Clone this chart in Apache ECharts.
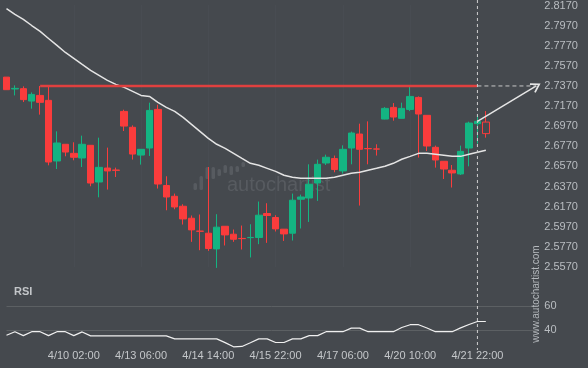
<!DOCTYPE html>
<html><head><meta charset="utf-8">
<script src="https://cdn.jsdelivr.net/npm/echarts@6/dist/echarts.min.js"></script>
<style>html,body{margin:0;padding:0;background:#45494e}#c{width:588px;height:368px}</style>
</head><body><div id="c"></div>
<script>
// [open, close, low, high]
const candles = [
[2.7458,2.7333,2.7333,2.7458],[2.7340,2.7346,2.7276,2.7376],[2.7343,2.7234,2.7210,2.7366],
[2.7220,2.7286,2.7144,2.7306],[2.7276,2.7207,2.7085,2.7370],[2.7227,2.6614,2.6581,2.7366],
[2.6624,2.6803,2.6544,2.6919],[2.6790,2.6713,2.6671,2.6790],[2.6700,2.6661,2.6631,2.6810],
[2.6654,2.6790,2.6564,2.6876],[2.6780,2.6405,2.6373,2.6780],[2.6415,2.6561,2.6263,2.6856],
[2.6554,2.6525,2.6340,2.6757],[2.6534,2.6531,2.6465,2.6558],[2.7117,2.6971,2.6922,2.7134],
[2.6959,2.6693,2.6638,2.6978],[2.6683,2.6740,2.6588,2.6740],[2.6753,2.7127,2.6674,2.7204],
[2.7137,2.6395,2.6350,2.7184],[2.6380,2.6266,2.6134,2.6472],[2.6273,2.6167,2.6144,2.6300],
[2.6174,2.6048,2.5992,2.6194],[2.6055,2.5939,2.5820,2.6082],[2.5927,2.5925,2.5737,2.6092],
[2.5906,2.5754,2.5730,2.6564],[2.5750,2.5966,2.5561,2.6095],[2.5975,2.5889,2.5784,2.5975],
[2.5896,2.5846,2.5820,2.5943],[2.5854,2.5852,2.5744,2.5982],[2.5862,2.5864,2.5665,2.5995],
[2.5863,2.6085,2.5797,2.6221],[2.6102,2.6082,2.5810,2.6204],[2.6062,2.5949,2.5923,2.6085],
[2.5946,2.5899,2.5829,2.5946],[2.5906,2.6234,2.5833,2.6300],[2.6244,2.6266,2.5953,2.6290],
[2.6256,2.6393,2.6018,2.6591],[2.6405,2.6591,2.6227,2.6638],[2.6604,2.6661,2.6584,2.6687],
[2.6648,2.6539,2.6512,2.6678],[2.6525,2.6740,2.6499,2.6780],[2.6753,2.6902,2.6591,2.6916],
[2.6892,2.6740,2.6181,2.6995],[2.6748,2.6746,2.6591,2.7018],[2.6744,2.6742,2.6678,2.6790],
[2.7041,2.7147,2.7038,2.7160],[2.7157,2.7061,2.7025,2.7200],[2.7048,2.7147,2.7048,2.7204],
[2.7137,2.7266,2.7120,2.7370],[2.7256,2.7091,2.6658,2.7266],[2.7078,2.6773,2.6723,2.7078],
[2.6760,2.6634,2.6558,2.6777],[2.6621,2.6544,2.6445,2.6621],[2.6532,2.6505,2.6360,2.6584],
[2.6495,2.6720,2.6485,2.6777],[2.6753,2.7001,2.6571,2.7015],[2.6995,2.7018,2.6797,2.7078],
[2.7011,2.6896,2.6856,2.7120]
];
const maLine = [2.8140,2.8081,2.8031,2.7971,2.7912,2.7842,2.7773,2.7703,2.7644,2.7584,
2.7525,2.7475,2.7425,2.7386,2.7356,2.7316,2.7276,2.7266,2.7207,2.7157,
2.7117,2.7058,2.6988,2.6919,2.6849,2.6790,2.6750,2.6700,2.6650,2.6601,
2.6581,2.6551,2.6521,2.6482,2.6462,2.6452,2.6452,2.6452,2.6452,2.6462,
2.6482,2.6502,2.6512,2.6532,2.6551,2.6571,2.6601,2.6641,2.6670,2.6700,
2.6700,2.6690,2.6680,2.6670,2.6670,2.6690,2.6710,2.6730];
const rsiLine = [35.6,38.6,35.3,38.6,38.6,35.3,38.6,38.6,35.3,38.4,35.1,
35.1,35.1,35.1,35.1,35.1,35.1,35.1,35.1,35.1,
32.6,32.6,32.6,32.6,32.6,32.6,
29.5,26.0,26.3,29.4,32.6,32.6,29.6,29.6,32.6,32.6,35.3,35.3,38.6,38.6,38.6,41.6,41.6,
38.6,38.6,38.6,38.6,42.1,44.4,44.4,41.7,38.6,38.6,38.6,41.8,44.6,47.1,47.1];
const tickIdx = [8,16,24,32,40,48,56];
const tickLabels = ['4/10 02:00','4/13 06:00','4/14 14:00','4/15 22:00','4/17 06:00','4/20 10:00','4/21 22:00'];
const priceMin = 2.557, priceMax = 2.817, priceStep = 0.02;
const rsiTicks = [40, 60];
const resistance = 2.737, resStart = 4, resEnd = 56;
const forecastStart = [56, 2.7018], forecastEnd = [63, 2.737];
const slotCount = 64;
const currentIdx = 56;

const cats = [];
for (let i = 0; i < slotCount; i++) cats.push(String(i));
const labelAt = {};
tickIdx.forEach((k, j) => { labelAt[k] = tickLabels[j]; });

const UP = '#14b482', DOWN = '#fa3c3c', BG = '#45494e';
const candleData = candles.map((c, i) => i === candles.length - 1
  ? { value: c, itemStyle: { color0: 'transparent', borderColor0: DOWN } } : c);

const gridL = 6.5, gridW = 529.8;
const chart = echarts.init(document.getElementById('c'));
const chevron = 'path://M5,0 L10,9 L8.8,10 L5,3.2 L1.2,10 L0,9 Z';
const axisFont = { color: '#b9bdc1', fontSize: 11, fontFamily: 'Liberation Sans, Arial, sans-serif' };

chart.setOption({
  backgroundColor: BG,
  animation: false,
  grid: [
    { left: gridL, width: gridW, top: 5, height: 262 },
    { left: gridL, width: gridW, top: 306, height: 24 }
  ],
  xAxis: [
    { type: 'category', gridIndex: 0, data: cats, boundaryGap: false,
      axisLine: { show: false }, axisTick: { show: false }, axisLabel: { show: false },
      splitLine: { show: true, interval: (i) => labelAt[i] !== undefined,
        lineStyle: { color: '#4d5156', type: 'dotted', width: 1 } } },
    { type: 'category', gridIndex: 1, data: cats, boundaryGap: false,
      axisLine: { show: false }, axisTick: { show: false },
      axisLabel: Object.assign({ interval: (i) => labelAt[i] !== undefined,
        formatter: (v, i) => labelAt[i] || '', margin: 20 }, axisFont, { color: '#c4c7ca' }),
      splitLine: { show: false } }
  ],
  yAxis: [
    { type: 'value', gridIndex: 0, position: 'right', min: priceMin, max: priceMax, interval: priceStep,
      axisLine: { show: false }, axisTick: { show: false }, splitLine: { show: false },
      axisLabel: Object.assign({ margin: 8, formatter: (v) => v.toFixed(4) }, axisFont) },
    { type: 'value', gridIndex: 1, position: 'right', min: rsiTicks[0], max: rsiTicks[1],
      interval: rsiTicks[1] - rsiTicks[0],
      axisLine: { show: false }, axisTick: { show: false },
      splitLine: { show: true, lineStyle: { color: '#5c6063', width: 1 } },
      axisLabel: Object.assign({ margin: 8 }, axisFont) }
  ],
  series: [
    { type: 'candlestick', xAxisIndex: 0, yAxisIndex: 0, data: candleData, barWidth: 7, clip: true,
      itemStyle: { color: UP, color0: DOWN, borderColor: UP, borderColor0: DOWN, borderWidth: 1 }, z: 3 },
    { type: 'line', xAxisIndex: 0, yAxisIndex: 0, data: maLine, showSymbol: false, symbol: 'none',
      lineStyle: { color: '#e4e4e4', width: 1.5 }, z: 4 },
    { type: 'line', xAxisIndex: 0, yAxisIndex: 0, symbol: 'none',
      data: [[resStart, resistance], [resEnd, resistance]],
      lineStyle: { color: '#e0403f', width: 2.5 }, z: 5 },
    { type: 'line', xAxisIndex: 0, yAxisIndex: 0, symbol: 'none',
      data: [[resEnd, resistance], [forecastEnd[0], resistance]],
      lineStyle: { color: '#c9c9c9', width: 1, type: [4, 3] }, z: 5 },
    { type: 'line', xAxisIndex: 0, yAxisIndex: 0, symbol: 'none', data: [],
      markLine: { silent: true, symbol: ['none', chevron], symbolSize: [11, 10],
        label: { show: false }, lineStyle: { color: '#e6e6e6', width: 1.5, type: 'solid' },
        data: [[{ coord: [String(forecastStart[0]), forecastStart[1]] },
                { coord: [String(forecastEnd[0]), forecastEnd[1]] }]] }, z: 6 },
    { type: 'line', xAxisIndex: 1, yAxisIndex: 1, data: rsiLine, symbol: 'none', clip: false,
      lineStyle: { color: '#f0f0f0', width: 1.2 }, z: 4 }
  ]
});

const vx = chart.convertToPixel({ xAxisIndex: 0 }, String(currentIdx));
const wm = '#575b60';
const bars = [[195,183,7],[201,176,14],[207,167,12],[213,167,12],[219,169,7],[225,165,8],[231,166,9],[237,166,6],[243,162,5]];
chart.setOption({
  graphic: [
    { type: 'line', shape: { x1: vx, y1: 0, x2: vx, y2: 350 }, silent: true, z: 10,
      style: { stroke: '#cfcfcf', lineWidth: 1, lineDash: [3, 3] } },
    { type: 'text', left: 227, top: 175, silent: true, z: 1,
      style: { text: 'autochartist', fill: wm, font: '20px "Liberation Sans", Arial, sans-serif' } }
  ].concat(bars.map(b => ({ type: 'rect', silent: true, z: 1,
      shape: { x: b[0] - 1.5, y: b[1], width: 3.5, height: b[2], r: 1.5 }, style: { fill: wm } })))
   .concat([
    { type: 'text', left: 14, top: 286, silent: true, z: 10,
      style: { text: 'RSI', fill: '#c3c6c9', font: 'bold 11px "Liberation Sans", Arial, sans-serif' } },
    { type: 'text', x: 536, y: 294, rotation: Math.PI / 2, silent: true, z: 10,
      style: { text: 'www.autochartist.com', fill: '#b4b8bc', align: 'center', verticalAlign: 'middle',
        font: '10px "Liberation Sans", Arial, sans-serif' } }
  ])
});
</script></body></html>
